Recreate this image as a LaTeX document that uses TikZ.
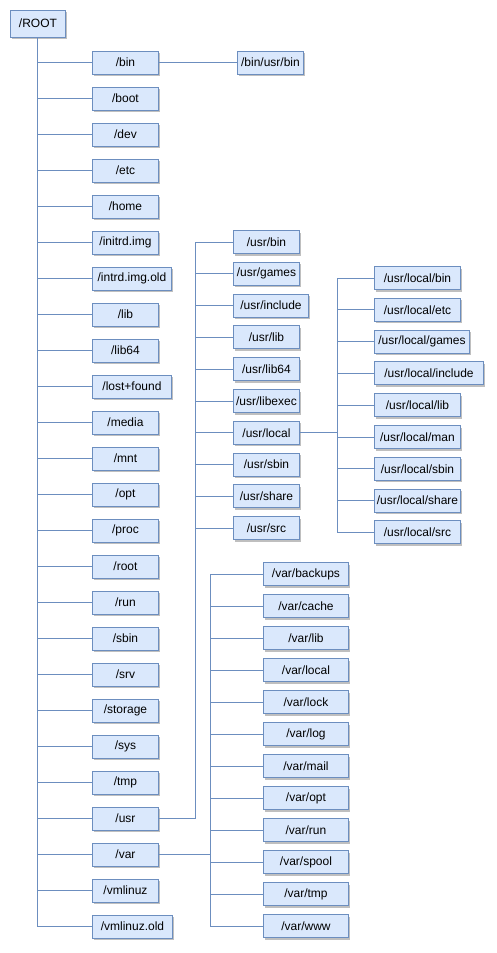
\documentclass[tikz,border=0pt]{standalone}
\usepackage{fontspec}
\setmainfont{Liberation Sans}
\usetikzlibrary{shadows}
\definecolor{dirfill}{HTML}{DAE8FC}
\definecolor{dirline}{HTML}{6C8EBF}

\begin{document}
\begin{tikzpicture}[x=1pt, y=-1pt,
    every node/.style={rectangle, draw=dirline, fill=dirfill, line width=0.9pt,
      minimum width=66pt, minimum height=23pt, inner sep=2pt, anchor=west,
      font=\fontsize{12}{14}\selectfont,
      drop shadow={shadow xshift=2pt, shadow yshift=-2pt, fill=black, opacity=0.25}},
    link/.style={draw=dirline, line width=1pt}]
    \useasboundingbox (0, 0) rectangle (497, 953);

    \node[minimum width=55pt, minimum height=27pt] (root) at (10, 23.5) {/ROOT};

      \node (bin) at (92, 62.5) {/bin};
        \draw[link] (root) |- (bin);
      \node (binusrbin) at (237, 62.5) {/bin/usr/bin};
        \draw[link] (bin) -- (binusrbin);

      \node (boot) at (92, 98.5) {/boot};
        \draw[link] (root) |- (boot);
      \node (dev) at (92, 134.5) {/dev};
        \draw[link] (root) |- (dev);
      \node (etc) at (92, 170.5) {/etc};
        \draw[link] (root) |- (etc);
      \node (home) at (92, 206.5) {/home};
        \draw[link] (root) |- (home);
      \node (initrd) at (92, 242.5) {/initrd.img};
        \draw[link] (root) |- (initrd);
      \node[minimum width=79pt] (intrdold) at (92, 278.5) {/intrd.img.old};
        \draw[link] (root) |- (intrdold);
      \node (lib) at (92, 314.5) {/lib};
        \draw[link] (root) |- (lib);
      \node (lib64) at (92, 350.5) {/lib64};
        \draw[link] (root) |- (lib64);
      \node[minimum width=79pt] (lostfound) at (92, 386.5) {/lost+found};
        \draw[link] (root) |- (lostfound);
      \node (media) at (92, 422.5) {/media};
        \draw[link] (root) |- (media);
      \node (mnt) at (92, 458.5) {/mnt};
        \draw[link] (root) |- (mnt);
      \node (opt) at (92, 494.5) {/opt};
        \draw[link] (root) |- (opt);
      \node (proc) at (92, 530.5) {/proc};
        \draw[link] (root) |- (proc);
      \node (rootdir) at (92, 566.5) {/root};
        \draw[link] (root) |- (rootdir);
      \node (run) at (92, 602.5) {/run};
        \draw[link] (root) |- (run);
      \node (sbin) at (92, 638.5) {/sbin};
        \draw[link] (root) |- (sbin);
      \node (srv) at (92, 674.5) {/srv};
        \draw[link] (root) |- (srv);
      \node (storage) at (92, 710.5) {/storage};
        \draw[link] (root) |- (storage);
      \node (sys) at (92, 746.5) {/sys};
        \draw[link] (root) |- (sys);
      \node (tmp) at (92, 782.5) {/tmp};
        \draw[link] (root) |- (tmp);
      \node (usr) at (92, 818.5) {/usr};
        \draw[link] (root) |- (usr);
      \node (var) at (92, 854.5) {/var};
        \draw[link] (root) |- (var);
      \node (vmlinuz) at (92, 890.5) {/vmlinuz};
        \draw[link] (root) |- (vmlinuz);
      \node[minimum width=80pt] (vmlinuzold) at (92, 926.5) {/vmlinuz.old};
        \draw[link] (root) |- (vmlinuzold);

    % /usr
    \coordinate (usrjoint) at (195, 818.5);
      \draw[link] (usr) -- (usrjoint);
      \node (usrbin) at (233, 242) {/usr/bin};
        \draw[link] (usrjoint) |- (usrbin);
      \node (usrgames) at (233, 273.8) {/usr/games};
        \draw[link] (usrjoint) |- (usrgames);
      \node[minimum width=75pt] (usrinclude) at (233, 305.6) {/usr/include};
        \draw[link] (usrjoint) |- (usrinclude);
      \node (usrlib) at (233, 337.4) {/usr/lib};
        \draw[link] (usrjoint) |- (usrlib);
      \node (usrlib64) at (233, 369.2) {/usr/lib64};
        \draw[link] (usrjoint) |- (usrlib64);
      \node (usrlibexec) at (233, 401) {/usr/libexec};
        \draw[link] (usrjoint) |- (usrlibexec);
      \node (usrlocal) at (233, 432.8) {/usr/local};
        \draw[link] (usrjoint) |- (usrlocal);
      \node (usrsbin) at (233, 464.6) {/usr/sbin};
        \draw[link] (usrjoint) |- (usrsbin);
      \node (usrshare) at (233, 496.4) {/usr/share};
        \draw[link] (usrjoint) |- (usrshare);
      \node (usrsrc) at (233, 528.2) {/usr/src};
        \draw[link] (usrjoint) |- (usrsrc);

    % /usr/local
    \coordinate (localjoint) at (337, 432.8);
      \draw[link] (usrlocal) -- (localjoint);
      \node[minimum width=86pt] (localbin) at (374, 278) {/usr/local/bin};
        \draw[link] (localjoint) |- (localbin);
      \node[minimum width=86pt] (localetc) at (374, 309.8) {/usr/local/etc};
        \draw[link] (localjoint) |- (localetc);
      \node[minimum width=95pt] (localgames) at (374, 341.6) {/usr/local/games};
        \draw[link] (localjoint) |- (localgames);
      \node[minimum width=109pt] (localinclude) at (374, 373.4) {/usr/local/include};
        \draw[link] (localjoint) |- (localinclude);
      \node[minimum width=86pt] (locallib) at (374, 405.2) {/usr/local/lib};
        \draw[link] (localjoint) |- (locallib);
      \node[minimum width=86pt] (localman) at (374, 437) {/usr/local/man};
        \draw[link] (localjoint) |- (localman);
      \node[minimum width=86pt] (localsbin) at (374, 468.8) {/usr/local/sbin};
        \draw[link] (localjoint) |- (localsbin);
      \node[minimum width=86pt] (localshare) at (374, 500.6) {/usr/local/share};
        \draw[link] (localjoint) |- (localshare);
      \node[minimum width=86pt] (localsrc) at (374, 532.4) {/usr/local/src};
        \draw[link] (localjoint) |- (localsrc);

    % /var
    \coordinate (varjoint) at (210, 854.5);
      \draw[link] (var) -- (varjoint);
      \node[minimum width=85pt] (varbackups) at (263, 574) {/var/backups};
        \draw[link] (varjoint) |- (varbackups);
      \node[minimum width=85pt] (varcache) at (263, 606) {/var/cache};
        \draw[link] (varjoint) |- (varcache);
      \node[minimum width=85pt] (varlib) at (263, 638) {/var/lib};
        \draw[link] (varjoint) |- (varlib);
      \node[minimum width=85pt] (varlocal) at (263, 670) {/var/local};
        \draw[link] (varjoint) |- (varlocal);
      \node[minimum width=85pt] (varlock) at (263, 702) {/var/lock};
        \draw[link] (varjoint) |- (varlock);
      \node[minimum width=85pt] (varlog) at (263, 734) {/var/log};
        \draw[link] (varjoint) |- (varlog);
      \node[minimum width=85pt] (varmail) at (263, 766) {/var/mail};
        \draw[link] (varjoint) |- (varmail);
      \node[minimum width=85pt] (varopt) at (263, 798) {/var/opt};
        \draw[link] (varjoint) |- (varopt);
      \node[minimum width=85pt] (varrun) at (263, 830) {/var/run};
        \draw[link] (varjoint) |- (varrun);
      \node[minimum width=85pt] (varspool) at (263, 862) {/var/spool};
        \draw[link] (varjoint) |- (varspool);
      \node[minimum width=85pt] (vartmp) at (263, 894) {/var/tmp};
        \draw[link] (varjoint) |- (vartmp);
      \node[minimum width=85pt] (varwww) at (263, 926) {/var/www};
        \draw[link] (varjoint) |- (varwww);
\end{tikzpicture}
\end{document}
